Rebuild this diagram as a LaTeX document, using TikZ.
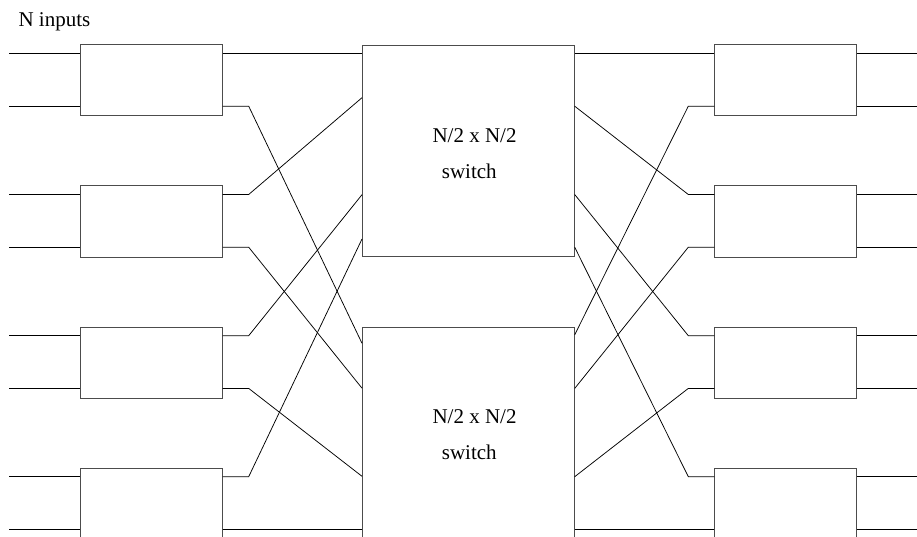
\documentclass[tikz,border=0pt]{standalone}
\usepackage{fontspec}
\setmainfont{Liberation Serif}
\begin{document}
\begin{tikzpicture}[x=1pt,y=-1pt,
  unit/.style={draw=black!70, line width=1pt, minimum width=141.7pt,
    minimum height=71pt, inner sep=0pt, anchor=north west},
  xbar/.style={draw=black!70, line width=1pt, minimum width=211.7pt,
    minimum height=211.3pt, inner sep=0pt, anchor=north west},
  wire/.style={line width=0.75pt, black},
  lbl/.style={font=\fontsize{21}{25}\selectfont, anchor=base west, inner sep=0pt}]
\path[use as bounding box] (0,0) rectangle (917,537);
\clip (0,0) rectangle (917,537);

% the two half-size switches
\node[xbar] (sw1) at (362,44.7) {};
\node[xbar] (sw2) at (362,326.7) {};
\node[lbl] (sw1a) at (432.3,142.7) {N/2 x N/2};
\node[lbl] (sw1b) at (441.7,178.3) {switch};
\node[lbl] (sw2a) at (432.3,423.3) {N/2 x N/2};
\node[lbl] (sw2b) at (441.7,459) {switch};

\node[lbl] (title) at (18.3,26.7) {N inputs};

% 2x2 units on both sides, wired with a perfect shuffle
% \t: unit top, \p/\q: ports on switch inputs, \r/\s: ports on switch outputs
\foreach \i/\t/\p/\q/\r/\s in {1/44.5/53.5/343.3/53.5/334.8,
                               2/185.5/97.7/388.2/106.2/388.4,
                               3/326.7/194.7/476.3/194.5/476.7,
                               4/467.7/239/529.4/247.2/529.4} {
  \pgfmathsetmacro\ya{\t+9}
  \pgfmathsetmacro\yb{\t+61.7}
  \node[unit] (lb\i) at (80,\t) {};
  \node[unit] (rb\i) at (714.3,\t) {};
  \coordinate (ina\i) at (9.3,\ya);
  \coordinate (inb\i) at (9.3,\yb);
  \coordinate (outa\i) at (916.7,\ya);
  \coordinate (outb\i) at (916.7,\yb);
  \draw[wire] (ina\i) -- (lb\i.west |- ina\i);
  \draw[wire] (inb\i) -- (lb\i.west |- inb\i);
  \draw[wire] (rb\i.east |- outa\i) -- (outa\i);
  \draw[wire] (rb\i.east |- outb\i) -- (outb\i);
  % left shuffle
  \draw[wire] (lb\i.east |- ina\i) -- ++(26,0) -- (sw1.west |- 0,\p);
  \draw[wire] (lb\i.east |- inb\i) -- ++(26,0) -- (sw2.west |- 0,\q);
  % right shuffle
  \draw[wire] (rb\i.west |- outa\i) -- ++(-26,0) -- (sw1.east |- 0,\r);
  \draw[wire] (rb\i.west |- outb\i) -- ++(-26,0) -- (sw2.east |- 0,\s);
}
\end{tikzpicture}
\end{document}
